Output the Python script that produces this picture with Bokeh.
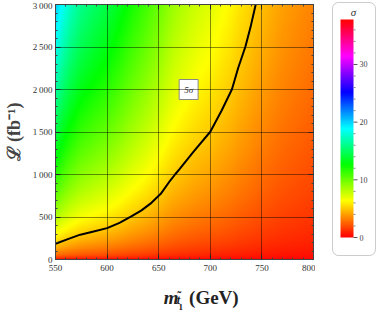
import colorsys
import numpy as np
from bokeh.plotting import figure
from bokeh.models import (LinearColorMapper, LinearAxis, Label, BoxAnnotation, Range1d,
                          SingleIntervalTicker, CustomJSTickFormatter)
from bokeh.layouts import row, column
from bokeh.embed import file_html
from bokeh.resources import INLINE
from bokeh.core.properties import value

# ---------------- data ----------------
# luminosity needed for a 5 sigma significance, as a function of the stop mass
reach_mass = [550, 562, 574, 587, 600, 612, 623, 633, 642, 652, 661, 666, 670, 684, 700, 711, 721, 727, 734, 739, 744, 770, 800]
reach_lumi = [185, 240, 292, 330, 369, 430, 504, 575, 657, 773, 926, 1003, 1060, 1272, 1503, 1753, 2003, 2253, 2503, 2734, 3000, 4700, 7000]
contour_level = 5.0
contour_text = "5σ"
contour_text_pos = (679, 2000)

x_ticks = [550, 600, 650, 700, 750, 800]
y_ticks = [0, 500, 1000, 1500, 2000, 2500, 3000]
y_tick_labels = ["0", "500", "1\u2009000", "1\u2009500", "2\u2009000", "2\u2009500", "3\u2009000"]
sigma_ticks = [0, 10, 20, 30]
sigma_max = 37.8

# ---------------- derived significance field (sigma ~ sqrt(L)) ----------------
m_grid = np.linspace(550, 800, 400)
l_grid = np.linspace(0, 3000, 400)
l5 = np.exp(np.interp(m_grid, reach_mass, np.log(reach_lumi)))
sigma = contour_level * np.sqrt(l_grid[:, None] / l5[None, :])

palette = []
for i in range(512):
    r, g, b = colorsys.hsv_to_rgb(i / 511.0, 1.0, 1.0)
    palette.append("#%02x%02x%02x" % (int(round(r * 255)), int(round(g * 255)), int(round(b * 255))))
mapper = LinearColorMapper(palette=palette, low=0, high=sigma_max)

SERIF = "Liberation Serif"
TICK_COLOR = "#444444"
MAIN_W = 307
TOTAL_H = 311
BOTTOM = 18

# ---------------- main plot ----------------
p = figure(frame_width=258, frame_height=255, x_range=Range1d(550, 800), y_range=Range1d(0, 3000),
           output_backend="svg", toolbar_location=None, title=None,
           min_border_left=47, min_border_right=2, min_border_top=4, min_border_bottom=BOTTOM)
p.image(image=[sigma], x=550, y=0, dw=250, dh=3000, color_mapper=mapper)
p.line(reach_mass, reach_lumi, line_color="black", line_width=2, line_join="round")

p.outline_line_color = TICK_COLOR
p.grid.grid_line_color = "black"
p.grid.grid_line_alpha = 0.45
p.grid.grid_line_width = 1
p.grid.level = "overlay"

xt = SingleIntervalTicker(interval=50, num_minor_ticks=5)
yt = SingleIntervalTicker(interval=500, num_minor_ticks=5)
p.xaxis.ticker = xt
p.yaxis.ticker = yt
p.xgrid.ticker = xt
p.ygrid.ticker = yt
p.yaxis.major_label_overrides = {t: s for t, s in zip(y_ticks, y_tick_labels)}

blank = CustomJSTickFormatter(code="return ''")
p.add_layout(LinearAxis(ticker=xt, formatter=blank, major_label_standoff=0), "above")
p.add_layout(LinearAxis(ticker=yt, formatter=blank, major_label_standoff=0), "right")

for ax in p.axis:
    ax.major_tick_in = 5
    ax.major_tick_out = 0
    ax.minor_tick_in = 2
    ax.minor_tick_out = 0
    ax.major_tick_line_color = TICK_COLOR
    ax.minor_tick_line_color = TICK_COLOR
    ax.axis_line_color = TICK_COLOR
    ax.major_label_text_font = SERIF
    ax.major_label_text_font_size = "9px"
    ax.major_label_text_color = "#333333"

p.xaxis[0].major_label_standoff = 4
p.yaxis[0].major_label_standoff = 3
p.yaxis[0].axis_label = "ℒ (fb⁻¹)"
p.yaxis[0].axis_label_text_font = SERIF
p.yaxis[0].axis_label_text_font_style = "bold"
p.yaxis[0].axis_label_text_font_size = "18px"
p.yaxis[0].axis_label_standoff = 6

p.add_layout(Label(x=contour_text_pos[0], y=contour_text_pos[1], text=contour_text,
                   text_font=SERIF, text_font_style="italic", text_font_size="9px",
                   text_align="center", text_baseline="middle", text_color="#333333",
                   background_fill_color="white", border_line_color="#888888", padding=5))

# ---------------- x axis title strip: m with subscript t-tilde-1, then (GeV) ----------------
TH = TOTAL_H - (4 + 255 + BOTTOM)
t = figure(width=MAIN_W, height=TH, x_range=Range1d(0, MAIN_W), y_range=Range1d(0, TH),
           output_backend="svg", toolbar_location=None, title=None, min_border=0,
           x_axis_type=None, y_axis_type=None)
t.grid.visible = False
t.outline_line_color = None
title_parts = [("m", 133, 14, "19px", "bold italic", "left"),
               ("t", 149, 12, "12px", "bold italic", "left"),
               ("\u02dc", 152, 16, "12px", "bold", "center"),
               ("1", 151, 5, "9px", "bold", "left"),
               ("(GeV)", 164, 14, "19px", "bold", "left")]
for txt, sx, sy, fs, st, al in title_parts:
    t.text(x=[sx], y=[sy], text=[txt], text_font=value(SERIF), text_font_size=fs,
           text_font_style=st, text_color="#222222", text_baseline="alphabetic", text_align=al)

# ---------------- colour legend ----------------
LW = 65
q = figure(width=LW, height=TOTAL_H, x_range=Range1d(0, LW), y_range=Range1d(0, TOTAL_H),
           output_backend="svg", toolbar_location=None, title=None, min_border=0,
           x_axis_type=None, y_axis_type=None)
q.grid.visible = False
q.outline_line_color = None
q.add_layout(BoxAnnotation(left=17, right=60, bottom=56, top=309, fill_color="white", fill_alpha=1,
                           line_color="#555555", line_width=1, border_radius=6, level="underlay"))
bar_x, bar_y, bar_w, bar_h = 25, 74, 13, 218
ramp = np.linspace(0, sigma_max, 300)[:, None]
q.image(image=[ramp], x=bar_x, y=bar_y, dw=bar_w, dh=bar_h, color_mapper=mapper)
scale = bar_h / sigma_max
minor_vals = [v for v in np.arange(0, sigma_max, 2.0) if v not in sigma_ticks]
q.segment(x0=[bar_x + bar_w] * len(minor_vals), x1=[bar_x + bar_w + 2] * len(minor_vals),
          y0=[bar_y + v * scale for v in minor_vals], y1=[bar_y + v * scale for v in minor_vals],
          line_color="#888888", line_width=1)
q.segment(x0=[bar_x + bar_w] * len(sigma_ticks), x1=[bar_x + bar_w + 4] * len(sigma_ticks),
          y0=[bar_y + v * scale for v in sigma_ticks], y1=[bar_y + v * scale for v in sigma_ticks],
          line_color="#555555", line_width=1)
q.text(x=[bar_x + bar_w + 6] * len(sigma_ticks), y=[bar_y + v * scale for v in sigma_ticks],
       text=[str(v) for v in sigma_ticks], text_font=value(SERIF), text_font_size="8px",
       text_color="#444444", text_baseline="middle", text_align="left")
q.text(x=[bar_x + bar_w], y=[300], text=["σ"], text_font=value(SERIF), text_font_style="italic",
       text_font_size="11px", text_color="#333333", text_baseline="middle", text_align="center")

layout = row(column(p, t), q)
open("out.html", "w").write(file_html(layout, INLINE))
